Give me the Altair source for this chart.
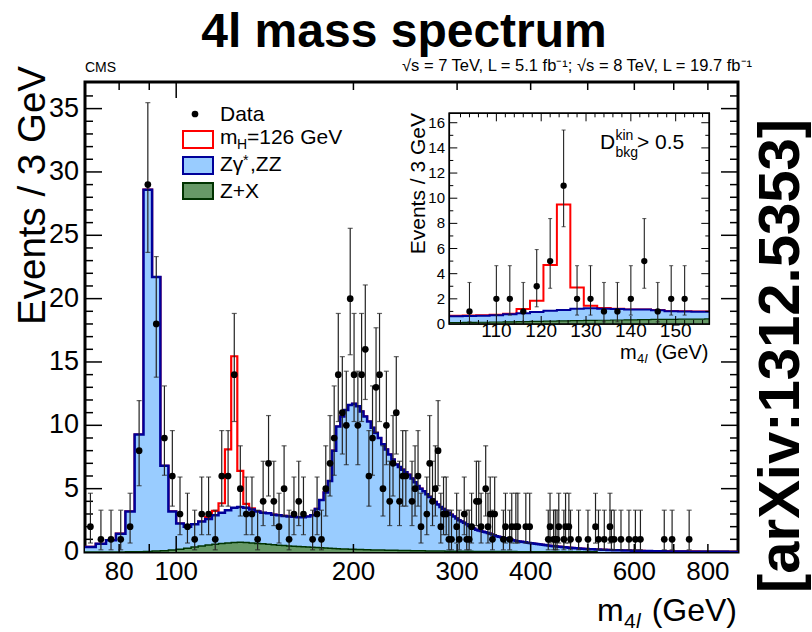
import altair as alt
import pandas as pd

FONT = "Liberation Sans"
W, H = 653, 470          # main plot area
OX, OY = 85, 82          # plot origin on the page

# ---------------- main plot data ----------------
X_MIN, X_MAX = 70.0, 900.0
Y_MAX = 37.1
BIN_START, BIN_WIDTH = 70.0, 3.0

# Zgamma*,ZZ + Z+X stacked, per 3 GeV bin starting at 70 GeV
ZZ_TOTAL = [
    0.40, 0.65, 0.92, 1.45, 3.2, 9.27, 28.6, 21.7, 6.8, 3.2,
    2.24, 2.0, 2.2, 2.4, 2.6, 2.9, 3.1, 3.3, 3.5, 3.55,
    3.5, 3.35, 3.2, 3.1, 3.05, 2.95, 2.9, 2.85, 2.8, 2.78,
    2.75, 2.75, 2.8, 2.9, 3.4, 4.1, 4.7, 5.6, 8.0, 9.9,
    10.7, 11.2, 11.6, 11.7, 11.5, 11.1, 10.7, 10.3, 9.8, 9.4,
    9.0, 8.5, 8.1, 7.7, 7.3, 6.9, 6.7, 6.5, 6.3, 6.1,
    5.8, 5.5, 5.2, 5.0, 4.8, 4.55, 4.35, 4.15, 3.95, 3.75,
    3.55, 3.4, 3.25, 3.1, 2.95, 2.8, 2.65, 2.5, 2.4, 2.3,
    2.2, 2.05, 1.95, 1.85, 1.75, 1.7, 1.65, 1.6, 1.55, 1.5,
    1.45, 1.38, 1.3, 1.25, 1.2, 1.16, 1.12, 1.08, 1.04, 1.0,
    0.96, 0.92, 0.88, 0.85, 0.82, 0.8, 0.78, 0.76, 0.73, 0.71,
    0.69, 0.67, 0.65, 0.63, 0.61, 0.59, 0.57, 0.55, 0.53, 0.51,
    0.49, 0.48, 0.46, 0.45, 0.44, 0.42, 0.41, 0.40, 0.38, 0.37,
    0.36, 0.34, 0.33, 0.32, 0.31, 0.30, 0.29, 0.28, 0.27, 0.26,
    0.25, 0.24, 0.235, 0.23, 0.225, 0.22, 0.215, 0.21, 0.205, 0.2,
    0.195, 0.19, 0.185, 0.18, 0.175, 0.17, 0.165, 0.16, 0.155, 0.15,
    0.147, 0.144, 0.141, 0.138, 0.135, 0.132, 0.129, 0.126, 0.123, 0.12,
    0.118, 0.115, 0.112, 0.11, 0.107, 0.104, 0.102, 0.1, 0.098, 0.095,
    0.092, 0.09, 0.088, 0.085, 0.083, 0.08, 0.078, 0.076, 0.074, 0.072,
    0.07, 0.068, 0.066, 0.065, 0.063, 0.061, 0.06, 0.058, 0.056, 0.055,
    0.053, 0.052, 0.05, 0.049, 0.048, 0.046, 0.045, 0.044, 0.043, 0.042,
    0.041, 0.04, 0.039, 0.038, 0.037, 0.036, 0.035, 0.034, 0.033, 0.032,
    0.031, 0.03, 0.03, 0.029, 0.028, 0.027, 0.027, 0.026, 0.025, 0.025,
    0.024, 0.023, 0.023, 0.022, 0.022, 0.021, 0.02, 0.02, 0.019, 0.019,
    0.018, 0.018, 0.017, 0.017, 0.016, 0.016, 0.016, 0.015, 0.015, 0.014,
    0.014, 0.014, 0.013, 0.013, 0.013, 0.012, 0.012, 0.012, 0.011, 0.011,
    0.011, 0.01, 0.01, 0.01, 0.01, 0.009, 0.009, 0.009, 0.009, 0.008,
    0.008, 0.008, 0.008, 0.008, 0.007, 0.007, 0.007,
]

# Z+X, per 3 GeV bin starting at 70 GeV
ZX = [
    0.0, 0.0, 0.0, 0.0, 0.01, 0.02, 0.04, 0.07, 0.1, 0.15,
    0.22, 0.3, 0.4, 0.48, 0.56, 0.62, 0.68, 0.72, 0.75, 0.76,
    0.75, 0.72, 0.68, 0.65, 0.61, 0.58, 0.54, 0.51, 0.48, 0.46,
    0.44, 0.42, 0.4, 0.37, 0.35, 0.33, 0.31, 0.29, 0.27, 0.25,
    0.24, 0.23, 0.22, 0.21, 0.2, 0.19, 0.18, 0.17, 0.165, 0.16,
    0.155, 0.15, 0.145, 0.14, 0.135, 0.13, 0.125, 0.12, 0.115, 0.11,
    0.105, 0.1, 0.097, 0.094, 0.091, 0.088, 0.085, 0.082, 0.079, 0.076,
    0.073, 0.071, 0.069, 0.067, 0.065, 0.063, 0.061, 0.059, 0.057, 0.055,
    0.053, 0.052, 0.05, 0.049, 0.048, 0.046, 0.045, 0.044, 0.043, 0.042,
    0.041, 0.04, 0.039, 0.038, 0.037, 0.036, 0.035, 0.034, 0.033, 0.032,
    0.031, 0.03, 0.03, 0.029, 0.028, 0.027, 0.027, 0.026, 0.025, 0.025,
    0.024, 0.023, 0.023, 0.022, 0.022, 0.021, 0.02, 0.02, 0.019, 0.019,
    0.018, 0.018, 0.017, 0.017, 0.017, 0.016, 0.016, 0.016, 0.015, 0.015,
    0.015, 0.014, 0.014, 0.014, 0.013, 0.013, 0.013, 0.013, 0.012, 0.012,
    0.012, 0.012, 0.011, 0.011, 0.011, 0.011, 0.01, 0.01, 0.01, 0.01,
]

# m_H = 126 GeV signal on top of the background, bins 13.. (109-136 GeV)
HIGGS_FIRST_BIN = 13
HIGGS = [0.0, 0.15, 0.35, 0.75, 4.8, 11.95, 2.85, 0.3, 0.1]

DATA_MASS = [
    71.5, 74.5, 77.5, 80.5, 83.5, 86.5, 89.5, 92.5, 95.5, 98.5,
    101.5, 104.5, 107.5, 110.5, 113.5, 116.5, 119.5, 122.5, 125.5, 128.5,
    131.5, 134.5, 137.5, 140.5, 143.5, 146.5, 149.5, 152.5, 155.5, 158.5,
    161.5, 164.5, 170.5, 173.5, 176.5, 179.5, 182.5, 185.5, 188.5, 191.5,
    194.5, 197.5, 200.5, 203.5, 206.5, 209.5, 212.5, 215.5, 218.5, 221.5,
    224.5, 227.5, 230.5, 233.5, 236.5, 239.5, 242.5, 245.5, 251.5, 254.5,
    257.5, 260.5, 266.5, 269.5, 272.5, 275.5, 278.5, 281.5, 284.5, 287.5,
    290.5, 293.5, 299.5, 302.5, 308.5, 311.5, 314.5, 317.5, 323.5, 326.5,
    329.5, 335.5, 338.5, 341.5, 344.5, 347.5, 359.5, 362.5, 368.5, 371.5,
    377.5, 380.5, 392.5, 398.5, 428.5, 431.5, 437.5, 440.5, 443.5, 446.5,
    455.5, 458.5, 464.5, 467.5, 482.5, 500.5, 515.5, 521.5, 533.5, 545.5,
    548.5, 554.5, 569.5, 587.5, 602.5, 614.5, 674.5, 695.5, 743.5,
]
DATA_COUNT = [
    2, 1, 1, 1, 2, 8, 29, 18, 9, 6,
    3, 2, 1, 3, 3, 1, 6, 6, 14, 5,
    3, 3, 1, 4, 7, 4, 2, 5, 1, 3,
    4, 3, 1, 3, 1, 5, 7, 9, 14, 11,
    10, 20, 14, 10, 14, 16, 6, 9, 13, 14,
    5, 10, 4, 7, 11, 4, 6, 6, 4, 5,
    6, 2, 3, 7, 4, 5, 8, 2, 3, 3,
    1, 1, 2, 1, 3, 1, 1, 2, 4, 4,
    2, 5, 2, 3, 1, 3, 1, 2, 1, 2,
    2, 2, 2, 2, 1, 2, 1, 1, 1, 2,
    1, 2, 2, 1, 1, 1, 2, 1, 1, 2,
    1, 1, 1, 1, 1, 1, 1, 1, 1,
]

# 68% Poisson (Garwood) intervals used for the error bars
POIS_N = [1, 2, 3, 4, 5, 6, 7, 8, 9, 10, 11, 12, 13, 14, 16, 18, 20, 29]
POIS_LO = [0.173, 0.708, 1.367, 2.086, 2.840, 3.620, 4.419, 5.232, 6.057,
           6.891, 7.734, 8.585, 9.441, 10.30, 12.04, 13.80, 15.57, 23.65]
POIS_HI = [3.300, 4.638, 5.918, 7.163, 8.382, 9.584, 10.77, 11.95, 13.11,
           14.27, 15.42, 16.56, 17.70, 18.83, 21.08, 23.32, 25.55, 35.47]

# ---------------- inset data (D_bkg^kin > 0.5) ----------------
IN_X_MIN, IN_X_MAX = 99.5, 157.5
IN_Y_MAX = 16.75
IN_BIN_START = 99.5
IN_ZZ_TOTAL = [0.62, 0.64, 0.66, 0.70, 0.78, 0.86, 0.95, 1.05, 1.12, 1.22,
               1.25, 1.22, 1.20, 1.15, 1.15, 1.10, 1.02, 1.00, 0.98, 0.98]
IN_TOTAL = [0.66, 0.67, 0.69, 0.73, 0.82, 1.2, 1.85, 4.7, 9.5, 2.9,
            1.45, 1.28, 1.22, 1.16, 1.16, 1.11, 1.03, 1.01, 0.99, 0.99]
IN_ZX = [0.12, 0.13, 0.14, 0.16, 0.17, 0.19, 0.21, 0.23, 0.25, 0.27,
         0.29, 0.30, 0.32, 0.33, 0.35, 0.36, 0.37, 0.38, 0.39, 0.40]
IN_MASS = [104, 110, 113, 116, 119, 122, 125, 128, 131, 134, 137, 140, 143, 146, 149, 152]
IN_COUNT = [1, 2, 2, 1, 3, 5, 11, 2, 2, 1, 1, 2, 5, 1, 2, 2]

# axis tick values
X_LABELS = [80, 100, 200, 300, 400, 600, 800]
X_TICK_MINOR = [80, 90, 200, 300, 400, 500, 600, 700, 800]
X_TICK_MAJOR = [100]
Y_LABELS = [0, 5, 10, 15, 20, 25, 30, 35]
Y_TICK_MINOR = [v for v in range(1, 37) if v % 5]
Y_TICK_MAJOR = [5, 10, 15, 20, 25, 30, 35]
IN_X_LABELS = [110, 120, 130, 140, 150]
IN_X_MINOR = [v for v in range(100, 158, 2) if v % 10]
IN_Y_LABELS = [0, 2, 4, 6, 8, 10, 12, 14, 16]
IN_Y_MINOR = [1, 3, 5, 7, 9, 11, 13, 15]

# ---------------- helpers ----------------
def step_frame(start, width, values, xmax):
    xs = [start + width * i for i in range(len(values))]
    ys = list(values)
    xs.append(min(start + width * len(values), xmax))
    ys.append(values[-1])
    return pd.DataFrame({"x": xs, "y": ys})


def data_frame(mass, count):
    lo = [POIS_LO[POIS_N.index(n)] for n in count]
    hi = [POIS_HI[POIS_N.index(n)] for n in count]
    return pd.DataFrame({"m": mass, "n": count, "lo": lo, "hi": hi})


dummy = pd.DataFrame({"a": [0]})


def label(txt, X, Y, size, weight="normal", align="left", angle=0,
          font=FONT, style="normal", baseline="alphabetic"):
    return alt.Chart(dummy).mark_text(
        text=txt, fontSize=size, fontWeight=weight, align=align, angle=angle,
        font=font, fontStyle=style, baseline=baseline, color="black"
    ).encode(x=alt.value(X - OX), y=alt.value(Y - OY))


# ---------------- main plot ----------------
XS = alt.Scale(type="log", domain=[X_MIN, X_MAX], nice=False)
YS = alt.Scale(domain=[0, Y_MAX], nice=False, zero=True)

red_vals = list(ZZ_TOTAL)
for k, h in enumerate(HIGGS):
    red_vals[HIGGS_FIRST_BIN + k] = ZZ_TOTAL[HIGGS_FIRST_BIN + k] + h

df_red = step_frame(BIN_START, BIN_WIDTH, red_vals, X_MAX)
df_blue = step_frame(BIN_START, BIN_WIDTH, ZZ_TOTAL, X_MAX)
df_green = step_frame(BIN_START, BIN_WIDTH, ZX, X_MAX)
df_data = data_frame(DATA_MASS, DATA_COUNT)


def mx(f="x"):
    return alt.X(f"{f}:Q", scale=XS, axis=None)


def my(f="y"):
    return alt.Y(f"{f}:Q", scale=YS, axis=None)


red_line = alt.Chart(df_red).mark_line(interpolate="step-after", color="#ff0000", strokeWidth=2.2, clip=True).encode(
    x=mx(), y=my())
blue_area = alt.Chart(df_blue).mark_area(interpolate="step-after", color="#99ccff", opacity=1, clip=True).encode(
    x=mx(), y=my())
blue_line = alt.Chart(df_blue).mark_line(interpolate="step-after", color="#000099", strokeWidth=2.5, clip=True).encode(
    x=mx(), y=my())
green_area = alt.Chart(df_green).mark_area(interpolate="step-after", color="#669966", opacity=1, clip=True).encode(
    x=mx(), y=my())
green_line = alt.Chart(df_green).mark_line(interpolate="step-after", color="#003300", strokeWidth=1.5, clip=True).encode(
    x=mx(), y=my())

err = alt.Chart(df_data).mark_rule(color="#222222", strokeWidth=1.2).encode(x=mx("m"), y=my("lo"), y2="hi:Q")
cap_hi = alt.Chart(df_data).mark_tick(orient="horizontal", size=5, thickness=1.2, color="#222222").encode(x=mx("m"), y=my("hi"))
cap_lo = alt.Chart(df_data).mark_tick(orient="horizontal", size=5, thickness=1.2, color="#222222").encode(x=mx("m"), y=my("lo"))
pts = alt.Chart(df_data).mark_circle(size=45, color="black", opacity=1).encode(x=mx("m"), y=my("n"))


def xticks(vals, length):
    d = pd.DataFrame({"v": vals})
    b = alt.Chart(d).mark_rule(color="black", strokeWidth=1.5).encode(
        x=mx("v"), y=alt.value(H), y2=alt.value(H - length))
    t = alt.Chart(d).mark_rule(color="black", strokeWidth=1.5).encode(
        x=mx("v"), y=alt.value(0), y2=alt.value(length))
    return [b, t]


def yticks(vals, length):
    d = pd.DataFrame({"v": vals})
    l = alt.Chart(d).mark_rule(color="black", strokeWidth=1.5).encode(
        y=my("v"), x=alt.value(0), x2=alt.value(length))
    r = alt.Chart(d).mark_rule(color="black", strokeWidth=1.5).encode(
        y=my("v"), x=alt.value(W), x2=alt.value(W - length))
    return [l, r]


x_labels = alt.Chart(pd.DataFrame({"v": X_LABELS})).mark_text(
    fontSize=26, font=FONT, align="center", baseline="alphabetic", color="black").encode(
    x=mx("v"), y=alt.value(580 - OY), text=alt.Text("v:Q", format="d"))
y_labels = alt.Chart(pd.DataFrame({"v": Y_LABELS})).mark_text(
    fontSize=27, font=FONT, align="right", baseline="middle", color="black").encode(
    y=my("v"), x=alt.value(79 - OX), text=alt.Text("v:Q", format="d"))


def swatch(X1, X2, Y1, Y2, fill, stroke):
    return alt.Chart(dummy).mark_rect(fill=fill, stroke=stroke, strokeWidth=2).encode(
        x=alt.value(X1 - OX), x2=alt.value(X2 - OX), y=alt.value(Y1 - OY), y2=alt.value(Y2 - OY))


legend = [
    alt.Chart(dummy).mark_circle(size=45, color="black", opacity=1).encode(
        x=alt.value(195 - OX), y=alt.value(114 - OY)),
    label("Data", 220, 121, 21),
    swatch(183, 213, 131, 148, "white", "#ff0000"),
    label("m", 220, 144, 21),
    label("H", 237, 149, 14),
    label("=126 GeV", 247, 144, 21),
    swatch(183, 213, 157, 174, "#99ccff", "#000099"),
    label("Zγ", 220, 171, 21),
    label("*", 243, 165, 14),
    label(",ZZ", 250, 171, 21),
    swatch(183, 213, 183, 199, "#669966", "#003300"),
    label("Z+X", 220, 198, 21),
]

texts = [
    label("4l mass spectrum", 404, 47, 48, weight="bold", align="center"),
    label("CMS", 85, 72, 14),
    label("√s = 7 TeV, L = 5.1 fb⁻¹; √s = 8 TeV, L = 19.7 fb⁻¹", 752, 71, 16.5, align="right"),
    label("Events / 3 GeV", 45, 66, 38.5, align="right", angle=270),
    label("m", 597, 621, 32),
    label("4", 624, 628, 21),
    label("l", 636, 628, 21, style="italic"),
    label("(GeV)", 737, 621, 32, align="right"),
    label("[arXiv:1312.5353]", 799, 356, 58, weight="bold", align="center", angle=270),
]

main = alt.layer(
    red_line, blue_area, blue_line, green_area, green_line,
    *xticks(X_TICK_MINOR, 8), *xticks(X_TICK_MAJOR, 16),
    *yticks(Y_TICK_MINOR, 8), *yticks(Y_TICK_MAJOR, 17),
    err, cap_hi, cap_lo, pts,
    x_labels, y_labels,
    *legend, *texts,
)

# ---------------- inset ----------------
IL, IR, IB, IT = 449.3 - OX, 709.3 - OX, 324.0 - OY, 113.3 - OY
IXS = alt.Scale(domain=[IN_X_MIN, IN_X_MAX], range=[IL, IR], nice=False, zero=False)
IYS = alt.Scale(domain=[0, IN_Y_MAX], range=[IB, IT], nice=False, zero=False)


def ix(f="x"):
    return alt.X(f"{f}:Q", scale=IXS, axis=None)


def iy(f="y"):
    return alt.Y(f"{f}:Q", scale=IYS, axis=None)


df_in_red = step_frame(IN_BIN_START, BIN_WIDTH, IN_TOTAL, IN_X_MAX)
df_in_blue = step_frame(IN_BIN_START, BIN_WIDTH, IN_ZZ_TOTAL, IN_X_MAX)
df_in_green = step_frame(IN_BIN_START, BIN_WIDTH, IN_ZX, IN_X_MAX)
df_in_data = data_frame(IN_MASS, IN_COUNT)

frame_bg = alt.Chart(dummy).mark_rect(fill="white", stroke="black", strokeWidth=1.5).encode(
    x=alt.X(datum=IN_X_MIN, scale=IXS, axis=None), x2=alt.X2(datum=IN_X_MAX),
    y=alt.Y(datum=0, scale=IYS, axis=None), y2=alt.Y2(datum=IN_Y_MAX))
frame_line = alt.Chart(dummy).mark_rect(fill=None, stroke="black", strokeWidth=1.5).encode(
    x=alt.X(datum=IN_X_MIN, scale=IXS, axis=None), x2=alt.X2(datum=IN_X_MAX),
    y=alt.Y(datum=0, scale=IYS, axis=None), y2=alt.Y2(datum=IN_Y_MAX))

in_red = alt.Chart(df_in_red).mark_line(interpolate="step-after", color="#ff0000", strokeWidth=2).encode(x=ix(), y=iy())
in_blue_a = alt.Chart(df_in_blue).mark_area(interpolate="step-after", color="#99ccff", opacity=1).encode(x=ix(), y=iy())
in_blue_l = alt.Chart(df_in_blue).mark_line(interpolate="step-after", color="#000099", strokeWidth=2).encode(x=ix(), y=iy())
in_green_a = alt.Chart(df_in_green).mark_area(interpolate="step-after", color="#669966", opacity=1).encode(x=ix(), y=iy())
in_green_l = alt.Chart(df_in_green).mark_line(interpolate="step-after", color="#003300", strokeWidth=1.2).encode(x=ix(), y=iy())

in_err = alt.Chart(df_in_data).mark_rule(color="#222222", strokeWidth=1.1).encode(x=ix("m"), y=iy("lo"), y2="hi:Q")
in_cap_hi = alt.Chart(df_in_data).mark_tick(orient="horizontal", size=4, thickness=1.1, color="#222222").encode(x=ix("m"), y=iy("hi"))
in_cap_lo = alt.Chart(df_in_data).mark_tick(orient="horizontal", size=4, thickness=1.1, color="#222222").encode(x=ix("m"), y=iy("lo"))
in_pts = alt.Chart(df_in_data).mark_circle(size=40, color="black", opacity=1).encode(x=ix("m"), y=iy("n"))


def in_xticks(vals, length):
    d = pd.DataFrame({"v": vals})
    return [
        alt.Chart(d).mark_rule(color="black", strokeWidth=1).encode(x=ix("v"), y=alt.value(IB), y2=alt.value(IB - length)),
        alt.Chart(d).mark_rule(color="black", strokeWidth=1).encode(x=ix("v"), y=alt.value(IT), y2=alt.value(IT + length)),
    ]


def in_yticks(vals, length):
    d = pd.DataFrame({"v": vals})
    return [
        alt.Chart(d).mark_rule(color="black", strokeWidth=1).encode(y=iy("v"), x=alt.value(IL), x2=alt.value(IL + length)),
        alt.Chart(d).mark_rule(color="black", strokeWidth=1).encode(y=iy("v"), x=alt.value(IR), x2=alt.value(IR - length)),
    ]


in_xlab = alt.Chart(pd.DataFrame({"v": IN_X_LABELS})).mark_text(
    fontSize=19, font=FONT, align="center", baseline="alphabetic", color="black").encode(
    x=ix("v"), y=alt.value(337 - OY), text=alt.Text("v:Q", format="d"))
in_ylab = alt.Chart(pd.DataFrame({"v": IN_Y_LABELS})).mark_text(
    fontSize=15, font=FONT, align="right", baseline="middle", color="black").encode(
    y=iy("v"), x=alt.value(445 - OX), text=alt.Text("v:Q", format="d"))

in_texts = [
    label("Events / 3 GeV", 425, 113, 21, align="right", angle=270),
    label("m", 620, 359, 20),
    label("4", 637, 363, 13),
    label("l", 644.5, 363, 13, style="italic"),
    label("(GeV)", 708.5, 359, 20, align="right"),
    label("D", 600, 149, 21),
    label("kin", 615.5, 140, 14),
    label("bkg", 615.5, 157, 14),
    label("> 0.5", 637, 149, 21),
]

inset = alt.layer(
    frame_bg, in_red, in_blue_a, in_blue_l, in_green_a, in_green_l,
    *in_xticks(IN_X_LABELS, 8), *in_xticks(IN_X_MINOR, 4),
    *in_yticks(IN_Y_LABELS[1:], 8), *in_yticks(IN_Y_MINOR, 4),
    in_err, in_cap_hi, in_cap_lo, in_pts, frame_line,
    in_xlab, in_ylab, *in_texts,
)

chart = alt.layer(main, inset).resolve_scale(x="independent", y="independent").properties(
    width=W, height=H,
    autosize=alt.AutoSizeParams(type="none"),
    padding={"left": OX, "top": OY, "right": 812 - OX - W, "bottom": 632 - OY - H},
    background="white",
).configure_view(stroke="black", strokeWidth=3)

chart.save("out.html", embed_options={"renderer": "svg", "actions": False})
